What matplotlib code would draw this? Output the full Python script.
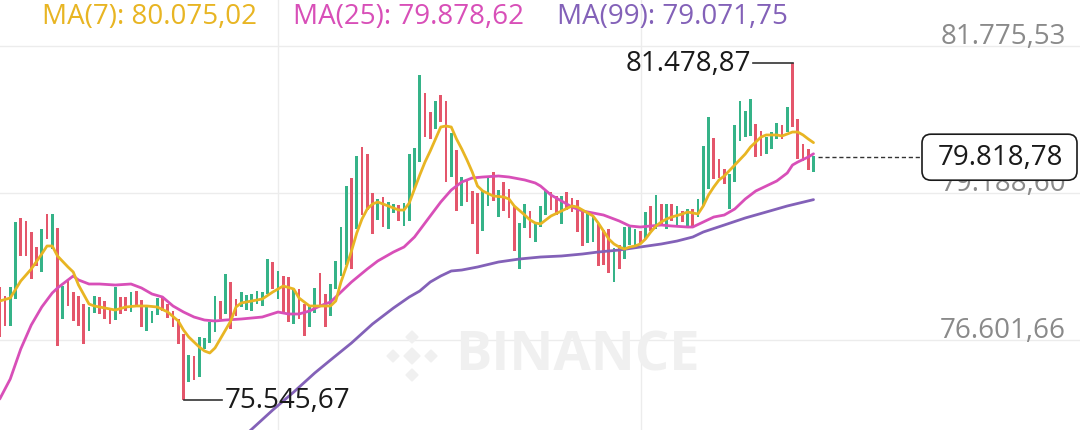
import matplotlib
matplotlib.use("Agg")
import matplotlib.pyplot as plt
from matplotlib.patches import FancyBboxPatch, Polygon
from matplotlib.transforms import IdentityTransform
import numpy as np

# candle extremes (price)
highs = [77534, 77376, 77534, 78678, 78749, 78696, 78502, 78238, 78555, 78819,
         78819, 78573, 77552, 77640, 77446, 77376, 77235, 77182, 77376, 77358,
         77288, 77147, 77534, 77358, 77358, 77446, 77464, 77305, 77182, 77112,
         77341, 77341, 77235, 77112, 76971, 76707, 76337, 76320, 76654, 76637,
         76918, 77376, 77288, 77763, 77622, 77323, 77446, 77393, 77411, 77464,
         77446, 78027, 77974, 77816, 77728, 77710, 77481, 77499, 77235, 77200,
         77517, 77781, 77411, 77587, 77992, 78590, 79312, 79453, 79840, 79998,
         79875, 79189, 79083, 79118, 79030, 78995, 78977, 79013, 79875, 79981,
         81265, 80949, 80614, 80808, 80913, 80808, 80245, 79945, 79470, 79400,
         79224, 79189, 79224, 79470, 79558, 79241, 79382, 79259, 78960, 78661,
         78995, 78872, 78678, 78960, 79224, 79206, 79136, 79136, 79206, 79101,
         79065, 78889, 78854, 78766, 78643, 78537, 78555, 78221, 78273, 78590,
         78590, 78555, 78520, 78854, 78960, 79153, 78995, 78995, 78995, 78960,
         78872, 78907, 78907, 79083, 80016, 80526, 80157, 79787, 79611, 79523,
         80385, 80808, 80632, 80843, 80403, 80280, 80174, 80262, 80421, 80385,
         80702, 81478.87, 80491, 80051, 79963, 79840]
lows = [76654, 76848, 76848, 77323, 78080, 78080, 77675, 77904, 77798, 78379,
        78203, 76496, 76971, 77200, 76936, 76848, 76531, 76760, 77077, 77059,
        76971, 76883, 76953, 77059, 77112, 77094, 77200, 76830, 76760, 76901,
        77041, 77112, 76989, 76830, 76531, 75545.67, 75862, 75897, 75950, 76443,
        76549, 76742, 76971, 77059, 76795, 77024, 77182, 77129, 77112, 77235,
        77200, 77411, 77499, 77323, 77059, 76918, 76883, 76971, 76672, 76830,
        77077, 77182, 76830, 77024, 77499, 77728, 77921, 77851, 78555, 78801,
        78889, 78467, 78714, 78590, 78555, 78837, 78696, 78608, 78696, 79259,
        79734, 80174, 80139, 80315, 80438, 79382, 79470, 78872, 78960, 79030,
        78643, 78115, 78520, 78960, 79048, 78766, 78872, 78749, 78168, 77851,
        78573, 78397, 78326, 78590, 78801, 78889, 78801, 78643, 78889, 78854,
        78502, 78256, 78309, 78326, 77904, 77921, 77781, 77622, 77851, 78027,
        78273, 78256, 78291, 78379, 78520, 78555, 78643, 78555, 78696, 78608,
        78678, 78608, 78608, 78766, 78960, 79259, 79435, 79453, 79347, 78907,
        79382, 80104, 80174, 80192, 79822, 79840, 79875, 79963, 80139, 80139,
        80262, 80350, 79787, 79752, 79593, 79558]
# G = up candle, R = down candle
direction = ("RRGGRRRRGR" "GRGRRRRGGR" "RRGRRGRRGG" "GRRRRRGRGG" "GGRGRRGGGG"
             "GGRGRRGRRG" "GRRGGGGRGR" "RRGRGGRGGG" "GRRGRRGRGR" "RRGGRGRRRG"
             "GRGGGRRGRR" "RRGGRRRGRG" "GGRGRGRGRG" "RGRGGGRRRG" "GGGGRRGGGR"
             "GRRRRG")

ma7_idx = [0, 2, 4, 5, 6, 8, 9, 10, 11, 13, 14, 15, 17, 18, 20, 22, 24, 26, 28, 30,
           32, 34, 35, 36, 38, 39, 40, 41, 42, 44, 45, 46, 48, 50, 52, 54, 56, 57, 59,
           61, 63, 64, 65, 66, 67, 68, 69, 70, 71, 72, 74, 76, 77, 78, 79, 80, 81, 82,
           83, 84, 85, 86, 87, 88, 89, 90, 91, 92, 94, 96, 97, 98, 100, 101, 102, 103,
           104, 105, 107, 109, 110, 111, 113, 114, 115, 116, 117, 118, 119, 120, 121,
           122, 123, 124, 125, 126, 127, 128, 130, 131, 132, 133, 134, 135, 136, 137,
           138, 140, 142, 143, 144, 145, 146, 148, 149, 150, 151, 152, 153, 154, 155]
ma7_val = [77288, 77341, 77640, 77745, 77851, 78115, 78256, 78256, 78080, 77886,
           77798, 77569, 77235, 77200, 77165, 77129, 77182, 77200, 77200, 77182,
           77094, 76936, 76777, 76654, 76478, 76408, 76373, 76461, 76619, 76936,
           77182, 77253, 77288, 77323, 77446, 77552, 77499, 77341, 77200, 77200,
           77200, 77288, 77622, 77886, 78168, 78485, 78731, 78907, 78995, 79030,
           78960, 78889, 78889, 79013, 79259, 79505, 79734, 79928, 80139, 80350,
           80368, 80350, 80139, 79963, 79769, 79558, 79312, 79224, 79136, 79118,
           79083, 78960, 78801, 78714, 78661, 78643, 78714, 78784, 78872, 78960,
           78942, 78889, 78784, 78661, 78520, 78379, 78291, 78238, 78203, 78238,
           78256, 78291, 78379, 78502, 78608, 78678, 78731, 78766, 78819, 78854,
           78837, 78819, 78960, 79153, 79294, 79418, 79488, 79681, 79875, 79998,
           80085, 80174, 80210, 80210, 80192, 80227, 80262, 80262, 80210, 80139,
           80075.02]

ma25_idx = [0, 2, 4, 6, 8, 10, 11, 13, 14, 15, 17, 19, 22, 25, 27, 29, 31, 33, 35, 37,
            39, 41, 43, 46, 50, 53, 55, 57, 59, 61, 63, 65, 67, 70, 72, 75, 77, 79, 80,
            82, 84, 86, 88, 90, 92, 95, 97, 100, 102, 103, 105, 107, 109, 111, 113, 115,
            116, 118, 120, 122, 124, 126, 128, 131, 132, 134, 136, 138, 140, 142, 144,
            146, 148, 150, 151, 152, 154, 155]
ma25_val = [75563, 75915, 76443, 76865, 77182, 77429, 77517, 77658, 77728, 77658,
            77587, 77587, 77569, 77587, 77517, 77411, 77358, 77200, 77094, 77006,
            76953, 76936, 76953, 76971, 77006, 77094, 77059, 77059, 77112, 77200,
            77270, 77446, 77622, 77851, 77992, 78150, 78238, 78414, 78537, 78784,
            79030, 79241, 79382, 79453, 79470, 79488, 79470, 79418, 79365, 79312,
            79153, 79048, 78942, 78872, 78837, 78801, 78766, 78696, 78608, 78590,
            78608, 78625, 78608, 78590, 78590, 78678, 78766, 78801, 78907, 79083,
            79224, 79312, 79400, 79541, 79681, 79734, 79822, 79878.62]

ma99_idx = [47, 52, 56, 60, 63, 67, 71, 75, 78, 80, 82, 84, 86, 88, 91, 95, 99, 103,
            107, 111, 114, 118, 122, 126, 129, 132, 134, 138, 142, 146, 150, 155]
ma99_val = [74947, 75369, 75686, 76021, 76249, 76549, 76883, 77165, 77358, 77464,
            77622, 77728, 77816, 77833, 77886, 77974, 78027, 78062, 78080, 78115,
            78150, 78185, 78238, 78291, 78343, 78414, 78502, 78625, 78749, 78854,
            78960, 79071.75]

last_price = 79818.78
price_ticks = [81775.53, 79188.60, 76601.66]
time_grid = [53.0, 122.1]

GREEN = "#35b388"
RED = "#e4566b"
C7, C25, C99 = "#e8b523", "#d84fb8", "#8361b8"
FONT = "Open Sans"


def eu(v):
    s = f"{v:,.2f}"
    return s.replace(",", "X").replace(".", ",").replace("X", ".")


fig = plt.figure(figsize=(10.8, 4.31), dpi=100)
ax = fig.add_axes([0, 0, 1, 1])
ax.set_xlim(0.0476, 205.76)
ax.set_ylim(75017.4, 82603)
ax.axis("off")

for t in price_ticks:
    ax.axhline(t, color="#ececec", lw=1.0, zorder=0)
for g in time_grid:
    ax.axvline(g, color="#ececec", lw=1.0, zorder=0)

# watermark
wm = "#f0f0f0"
ax.text(0.421, 0.172, "BINANCE", transform=ax.transAxes, fontsize=39,
        fontweight="bold", color=wm, family=FONT, va="center", ha="left", zorder=0)
cx, cy = 412, 431 - 357
for dx, dy, s in [(0, 0, 8), (-19, 0, 6), (19, 0, 6), (0, 19, 6), (0, -19, 6)]:
    ax.add_patch(Polygon([(cx + dx - s, cy + dy), (cx + dx, cy + dy + s),
                          (cx + dx + s, cy + dy), (cx + dx, cy + dy - s)],
                         closed=True, color=wm, transform=IdentityTransform(), zorder=0))

idx = np.arange(len(highs))
cols = [GREEN if d == "G" else RED for d in direction]
hi = np.array(highs)
lo = np.array(lows)
ax.bar(idx, hi - lo, bottom=lo, width=0.55, color=cols, zorder=2)

ax.plot(ma99_idx, ma99_val, color=C99, lw=2.0, zorder=3, solid_capstyle="round")
ax.plot(ma25_idx, ma25_val, color=C25, lw=2.0, zorder=3, solid_capstyle="round")
ax.plot(ma7_idx, ma7_val, color=C7, lw=2.0, zorder=4, solid_capstyle="round")

# price labels on the right
for t in price_ticks:
    ax.annotate(eu(t), xy=(0.987, t), xycoords=("axes fraction", "data"),
                xytext=(0, 2.5), textcoords="offset points", ha="right", va="baseline",
                fontsize=20, color="#8a8a8a", family=FONT, zorder=1)

# legend
for xf, lab, v, c in [(0.039, "MA(7)", ma7_val[-1], C7),
                      (0.271, "MA(25)", ma25_val[-1], C25),
                      (0.516, "MA(99)", ma99_val[-1], C99)]:
    ax.text(xf, 1 - 17 / 431, f"{lab}: {eu(v)}", transform=ax.transAxes,
            fontsize=20, color=c, family=FONT, va="center", ha="left")

# high / low markers
ih = int(np.argmax(hi))
ax.plot([ih - 7.6, ih], [hi[ih], hi[ih]], color="#333333", lw=1.2, zorder=5)
ax.text(ih - 7.9, hi[ih], eu(hi[ih]), fontsize=20, color="#1a1a1a", family=FONT,
        ha="right", va="center")
il = int(np.argmin(lo))
ax.plot([il, il + 7.4], [lo[il], lo[il]], color="#333333", lw=1.2, zorder=5)
ax.text(il + 7.9, lo[il], eu(lo[il]), fontsize=20, color="#1a1a1a", family=FONT,
        ha="left", va="center")

# last price line and box
ax.plot([idx[-1] + 0.8, 175.7], [last_price, last_price], color="#333333", lw=1.0,
        ls=(0, (3, 2)), zorder=5)
fig.canvas.draw()
yd = ax.transData.transform((0, last_price))[1]
ax.add_patch(FancyBboxPatch((922, yd - 23), 155, 46,
                            boxstyle="round,pad=0,rounding_size=9",
                            fc="white", ec="#1a1a1a", lw=1.2,
                            transform=IdentityTransform(), zorder=6))
ax.text(0.926, last_price, eu(last_price), transform=ax.get_yaxis_transform(),
        fontsize=20, color="#1a1a1a", family=FONT, ha="center", va="center", zorder=7)

fig.savefig("out.png", dpi=100)
